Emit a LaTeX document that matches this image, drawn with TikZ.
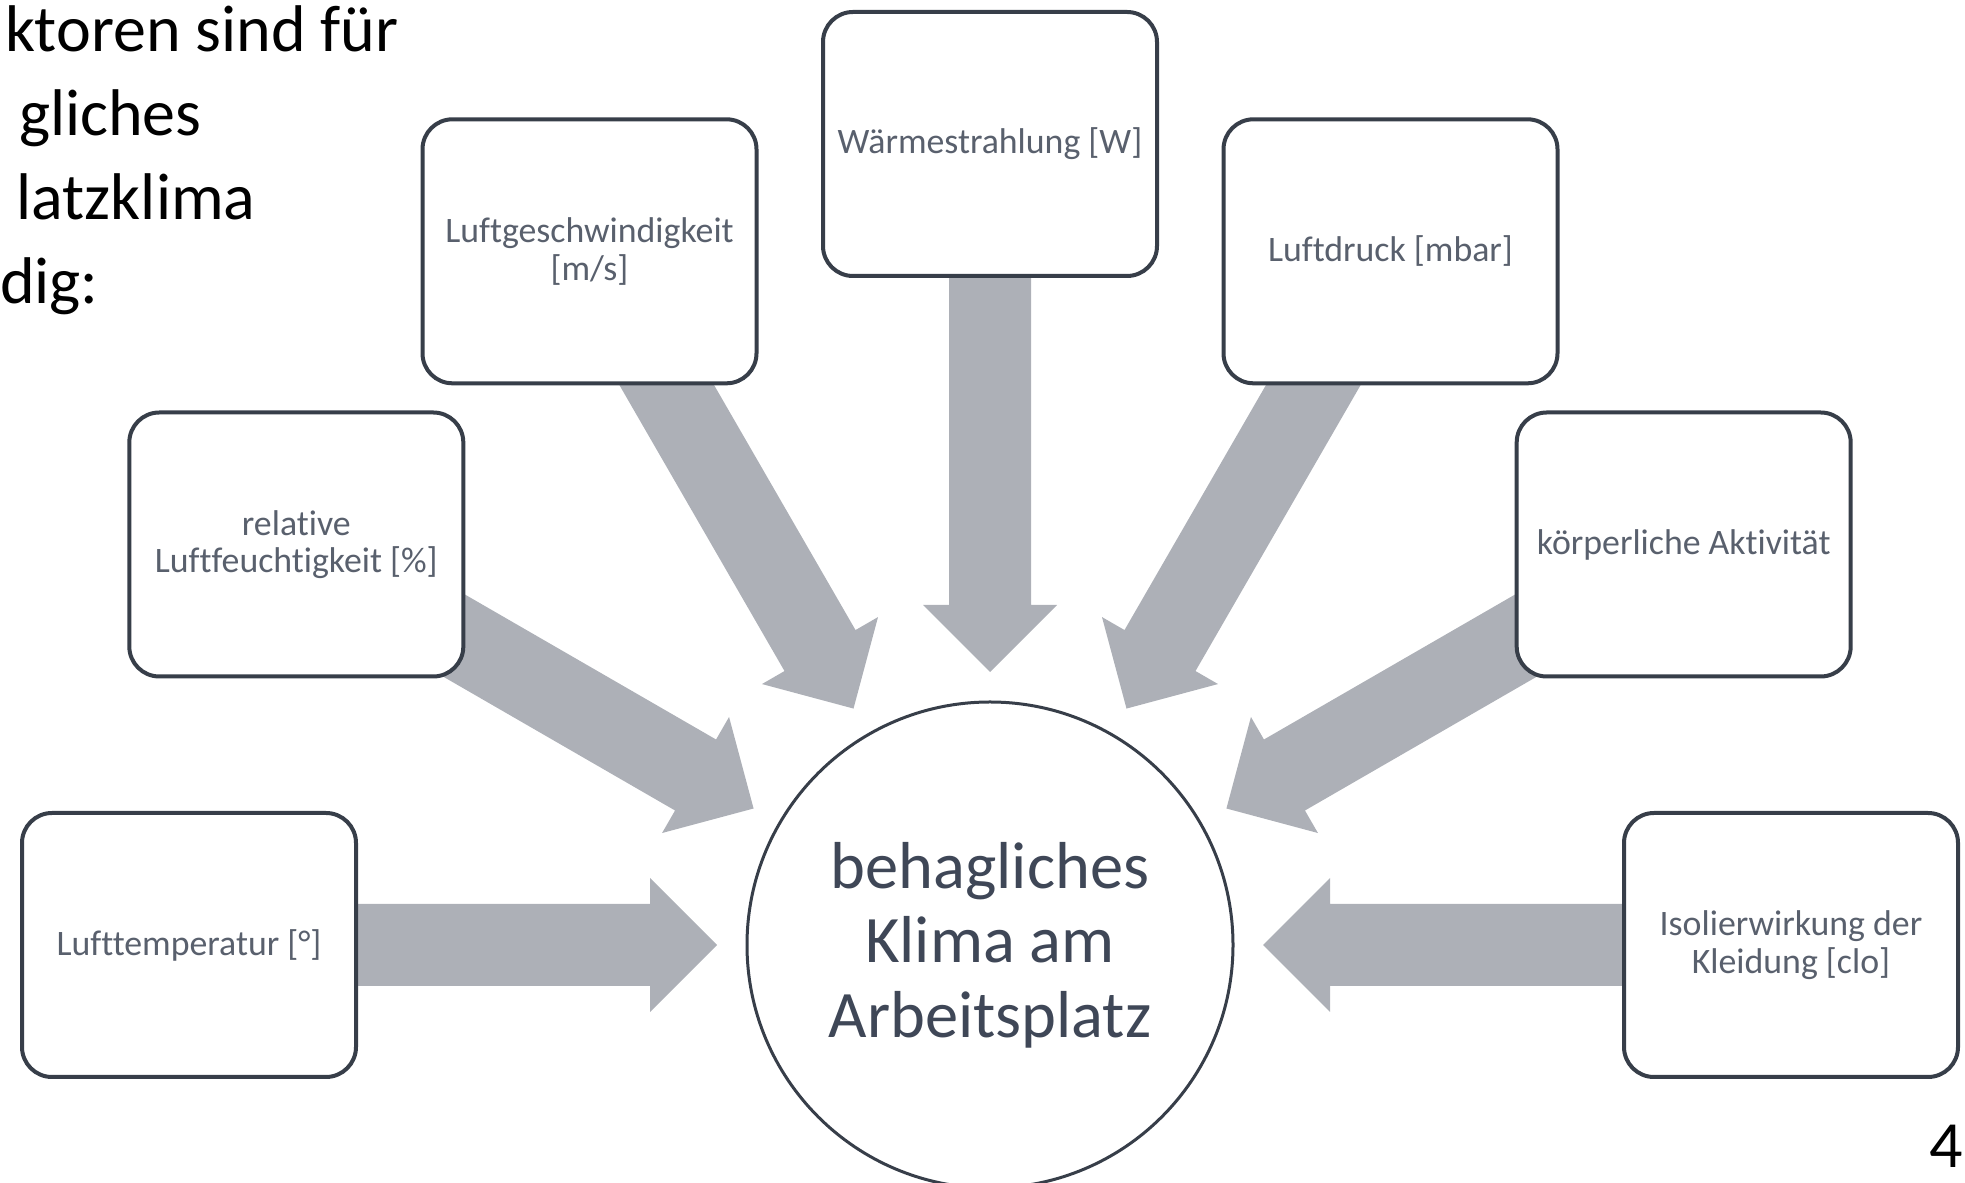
\documentclass[tikz,border=0pt]{standalone}
\usepackage{fontspec}
\setmainfont{Carlito}[Ligatures={NoCommon,NoRare,NoContextual},Contextuals=NoAlternate]
\usetikzlibrary{calc,backgrounds}
\definecolor{arrowgray}{HTML}{ADB0B7}
\definecolor{boxline}{HTML}{373E49}
\definecolor{boxtext}{HTML}{59606D}
\definecolor{centertext}{HTML}{3F4757}
% block arrow from box #1 towards the circle (c)
\newcommand\fanarrow[1]{%
  \fill[arrowgray]
       ($(c.center)!136.5pt!(#1.center)$)
    -- ($(c.center)!170pt!(#1.center)!33.5pt!90:(#1.center)$)
    -- ($(c.center)!170pt!(#1.center)!20.5pt!90:(#1.center)$)
    -- ($(c.center)!380pt!(#1.center)!20.5pt!90:(#1.center)$)
    -- ($(c.center)!380pt!(#1.center)!20.5pt!-90:(#1.center)$)
    -- ($(c.center)!170pt!(#1.center)!20.5pt!-90:(#1.center)$)
    -- ($(c.center)!170pt!(#1.center)!33.5pt!-90:(#1.center)$)
    -- cycle;}
\begin{document}
\begin{tikzpicture}[x=0.5pt,y=0.5pt,
  factorbox/.style={draw=boxline, line width=2pt, fill=white,
    rounded corners=15pt, minimum width=167pt, minimum height=132pt,
    text=boxtext, align=center, inner sep=0pt,
    font=\fontsize{17.9pt}{18.8pt}\selectfont},
  hub/.style={circle, draw=boxline, line width=1.5pt, fill=white,
    minimum size=243pt, inner sep=0pt, text=centertext, align=center,
    font=\fontsize{33.2pt}{37.3pt}\selectfont},
  headline/.style={anchor=base east, inner sep=0pt, text=black,
    font=\fontsize{33pt}{42pt}\selectfont}]
\useasboundingbox (0,0) rectangle (1965,1183);
\clip (0,0) rectangle (1965,1183);

% centre
\node[hub] (c) at (990,238) {behagliches\\Klima am\\Arbeitsplatz};

% factor boxes on a fan around the centre
\node[factorbox] (b1) at ($(c.center)+(180:400.5pt)$) {Lufttemperatur [°]};
\node[factorbox] (b2) at ($(c.center)+(150:400.5pt)$) {relative\\Luftfeuchtigkeit [\%]};
\node[factorbox] (b3) at ($(c.center)+(120:400.5pt)$) {Luftgeschwindigkeit\\{}[m/s]};
\node[factorbox] (b4) at ($(c.center)+(90:400.5pt)$) {Wärmestrahlung [W]};
\node[factorbox] (b5) at ($(c.center)+(60:400.5pt)$) {Luftdruck [mbar]};
\node[factorbox] (b6) at ($(c.center)+(30:400.5pt)$) {körperliche Aktivität};
\node[factorbox] (b7) at ($(c.center)+(0:400.5pt)$) {Isolierwirkung der\\Kleidung [clo]};

\begin{pgfonlayer}{background}
  \fanarrow{b1}\fanarrow{b2}\fanarrow{b3}\fanarrow{b4}%
  \fanarrow{b5}\fanarrow{b6}\fanarrow{b7}
\end{pgfonlayer}

% heading fragments (cut off at the left edge)
\node[headline] (h1) at (399,1131) {ktoren sind für};
\node[headline] (h2) at (202,1047) {gliches};
\node[headline] (h3) at (256,963) {latzklima};
\node[headline] (h4) at (99,879) {dig:};

% page number
\node[headline] (pg) at (1963,15) {4};
\end{tikzpicture}
\end{document}
